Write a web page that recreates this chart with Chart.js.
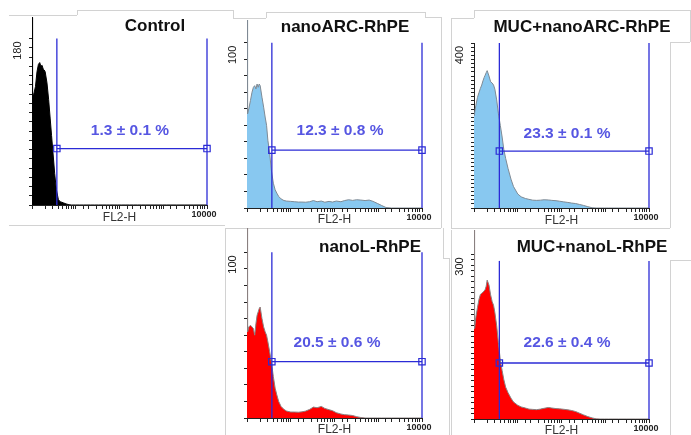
<!DOCTYPE html>
<html>
<head>
<meta charset="utf-8">
<title>FL2-H histograms</title>
<script src="https://cdn.jsdelivr.net/npm/chart.js@4.4.0/dist/chart.umd.min.js"></script>
<style>
  body { margin: 0; background: #fff; width: 691px; height: 435px; position: relative; overflow: hidden; }
  .seg { position: absolute; background: #d2d2d2; }
  canvas { position: absolute; }
</style>
</head>
<body>
<script>
// ==============================
// Data
// ==============================

// FL2-H channel positions shared by all histograms
const channels = [1, 1.03, 1.1, 1.2, 1.3, 1.4, 1.5, 1.6, 1.7, 1.8,
    1.9, 2, 2.2, 2.4, 2.6, 2.8, 3, 3.3, 3.6, 4,
    4.4, 4.8, 5.3, 6, 7, 8, 10, 12, 15, 18,
    22, 27, 33, 40, 50, 60, 75, 90, 110, 140,
    170, 210, 260, 320, 400, 500, 620, 760, 950, 1200,
    1500, 2000, 3000, 5000, 10000];

const controlCounts = [400, 119, 120, 128, 144, 152, 154, 150, 151, 147,
    146, 144, 132, 114, 94, 75, 58, 34, 17, 6,
    3.5, 3, 2.2, 1.2, 0.3, 0, 0, 0, 0, 0,
    0, 0, 0, 0, 0, 0, 0, 0, 0, 0,
    0, 0, 0, 0, 0, 0, 0, 0, 0, 0,
    0, 0, 0, 0, 0];

const nanoArcCounts = [300, 57, 60, 65, 70, 73, 74, 72, 75, 73,
    75, 74, 67, 61, 55, 50, 41, 33, 23, 15,
    11, 9, 7, 5.5, 4.5, 4.2, 4, 3.8, 3.6, 3.6,
    3.5, 3.8, 4.5, 3.8, 4.2, 3.5, 4, 3.6, 4.2, 3.8,
    4.5, 5, 4.6, 5, 4.8, 4.5, 4.8, 4, 2.8, 1.5,
    0.3, 0, 0, 0, 0];

const mucNanoArcCounts = [225, 230, 248, 268, 280, 290, 298, 308, 316, 322,
    328, 333, 320, 306, 303, 298, 288, 262, 230, 200,
    172, 142, 120, 96, 70, 52, 34, 27, 23, 21,
    19, 18.5, 19, 20, 19.5, 18.5, 17.7, 16.5, 15, 13.5,
    12, 10.8, 8.5, 6.2, 3.2, 0.6, 0, 0, 0, 0,
    0, 0, 0, 0, 0];

const nanoLCounts = [400, 52, 55, 56, 55, 54, 50, 57, 62, 64,
    66, 67, 60, 55, 52, 50, 46, 40, 34, 25,
    18, 14, 10, 7, 5.2, 4.2, 3.6, 3.6, 3.5, 3.7,
    4.2, 5.2, 6.6, 6.2, 7, 5.8, 5, 4.4, 3.2, 2.4,
    2, 1.8, 1.5, 0.8, 0.3, 0, 0, 0, 0, 0,
    0, 0, 0, 0, 0];

const mucNanoLCounts = [600, 165, 185, 203, 218, 227, 229, 231, 233, 236,
    242, 253, 244, 226, 214, 207, 194, 170, 140, 107,
    88, 72, 58, 48, 38, 31, 25, 22, 20, 18,
    17.5, 17, 18, 19.5, 21, 20, 19, 18.5, 17.8, 16.7,
    15.5, 13.6, 10.5, 7.5, 4.4, 2, 0.3, 0, 0, 0,
    0, 0, 0, 0, 0];

const titles = ["Control", "nanoARC-RhPE", "MUC+nanoARC-RhPE", "nanoL-RhPE", "MUC+nanoL-RhPE"];
const gateLabels = ["1.3 ± 0.1 %", "12.3 ± 0.8 %", "23.3 ± 0.1 %", "20.5 ± 0.6 %", "22.6 ± 0.4 %"];
const yTopTicks = [180, 100, 400, 100, 300];
const gateStart = [3.7, 3.7, 3.8, 3.7, 3.8];
const gateTop = [180, 100, 400, 100, 288];
const gateLevel = [61, 35, 138, 34, 102];
const xEndTick = 10000;

const histCounts = [controlCounts, nanoArcCounts, mucNanoArcCounts, nanoLCounts, mucNanoLCounts];

// ==============================
// Layout of the five panels
// ==============================

const panels = [
    { ax: 32,  right: 207, top: 17,  bottom: 205, yMax: 202.6, rowTop: 0,   title: [155, 26],  label: [130, 131], fl2y: 218, fill: "#000000", line: "#000000" },
    { ax: 247, right: 422, top: 20,  bottom: 208, yMax: 113.7, rowTop: 0,   title: [345, 27],  label: [340, 131], fl2y: 220, fill: "#88c8f0", line: "#7f8a94" },
    { ax: 474, right: 649, top: 43,  bottom: 208, yMax: 400,   rowTop: 0,   title: [582, 27],  label: [567, 134], fl2y: 221, fill: "#88c8f0", line: "#7f8a94" },
    { ax: 247, right: 422, top: 228, bottom: 418, yMax: 114.7, rowTop: 205, title: [370, 247], label: [337, 343], fl2y: 430, fill: "#ff0000", line: "#8a8080" },
    { ax: 474, right: 649, top: 230, bottom: 419, yMax: 344.3, rowTop: 205, title: [592, 247], label: [567, 343], fl2y: 431, fill: "#ff0000", line: "#8a8080" }
];

const RIGHT_PAD = 42;

// light grey frames around the panels
const frameSegments = [
    [9, 15, 77, 15], [77, 10, 77, 15], [77, 10, 233, 10], [233, 10, 233, 18], [233, 18, 266, 18],
    [266, 12, 266, 18], [266, 12, 425, 12], [425, 12, 425, 17], [425, 17, 441, 17], [441, 17, 441, 228],
    [9, 225, 225, 225], [225, 228, 441, 228],
    [451, 18, 451, 228], [451, 18, 474, 18], [474, 10, 474, 18], [474, 10, 691, 10],
    [690, 10, 690, 42], [670, 42, 690, 42], [670, 42, 670, 228], [451, 228, 670, 228],
    [225, 228, 225, 435], [443, 228, 443, 258], [443, 258, 449, 258], [449, 258, 449, 435],
    [451, 230, 451, 435], [670, 260, 670, 435], [670, 260, 691, 260]
];

frameSegments.forEach(([x1, y1, x2, y2]) => {
    const d = document.createElement("div");
    d.className = "seg";
    d.style.left = Math.min(x1, x2) + "px";
    d.style.top = Math.min(y1, y2) + "px";
    d.style.width = (Math.abs(x2 - x1) || 1) + "px";
    d.style.height = (Math.abs(y2 - y1) || 1) + "px";
    document.body.appendChild(d);
});

// ==============================
// Chart setup
// ==============================

const FONT = 'Arial, "Liberation Sans", sans-serif';
Chart.defaults.font.family = FONT;

const GATE = "#2b2bd6";

// title + gate percentage text
const panelText = {
    id: "panelText",
    afterDraw(chart, args, opts) {
        const ctx = chart.ctx;
        ctx.save();
        ctx.textAlign = "center";
        ctx.textBaseline = "middle";
        ctx.fillStyle = "#111";
        ctx.font = "bold 17px " + FONT;
        ctx.fillText(opts.title, opts.titleX, opts.titleY);
        ctx.fillStyle = "#5656e2";
        ctx.font = "bold 15.5px " + FONT;
        ctx.fillText(opts.label, opts.labelX, opts.labelY);
        ctx.restore();
    }
};

panels.forEach((p, i) => {

    const left = p.ax - 30;
    const width = p.right - left + RIGHT_PAD;
    const axisH = Math.round(p.fl2y - p.bottom + 7);
    const height = p.bottom + axisH - p.rowTop;

    const canvas = document.createElement("canvas");
    canvas.width = width;
    canvas.height = height;
    canvas.style.left = left + "px";
    canvas.style.top = p.rowTop + "px";
    canvas.style.width = width + "px";
    canvas.style.height = height + "px";
    document.body.appendChild(canvas);

    const counts = histCounts[i];
    const topTick = yTopTicks[i];

    const gateLine = {
        borderColor: GATE,
        borderWidth: 1.3,
        pointRadius: 0,
        fill: false,
        clip: 4,
        order: 1
    };

    new Chart(canvas, {
        type: "line",
        data: {
            datasets: [
                Object.assign({ data: [{ x: gateStart[i], y: 0 }, { x: gateStart[i], y: gateTop[i] }] }, gateLine),
                Object.assign({ data: [{ x: xEndTick, y: 0 }, { x: xEndTick, y: gateTop[i] }] }, gateLine),
                Object.assign({}, gateLine, {
                    data: [{ x: gateStart[i], y: gateLevel[i] }, { x: xEndTick, y: gateLevel[i] }],
                    pointStyle: "rect",
                    pointRadius: 4.5,
                    pointBorderColor: GATE,
                    pointBackgroundColor: "rgba(0,0,0,0)",
                    pointBorderWidth: 1.2
                }),
                {
                    data: channels.map((c, k) => ({ x: c, y: counts[k] })),
                    fill: "origin",
                    backgroundColor: p.fill,
                    borderColor: p.line,
                    borderWidth: 1,
                    pointRadius: 0,
                    tension: 0,
                    order: 2
                }
            ]
        },
        options: {
            responsive: false,
            animation: false,
            events: [],
            layout: {
                padding: { left: 0, right: RIGHT_PAD, top: p.top - p.rowTop, bottom: 0 }
            },
            plugins: {
                legend: { display: false },
                tooltip: { enabled: false },
                panelText: {
                    title: titles[i],
                    titleX: p.title[0] - left,
                    titleY: p.title[1] - p.rowTop,
                    label: gateLabels[i],
                    labelX: p.label[0] - left,
                    labelY: p.label[1] - p.rowTop
                }
            },
            scales: {
                x: {
                    type: "logarithmic",
                    min: 1,
                    max: xEndTick,
                    grid: { drawOnChartArea: false, tickLength: 4, color: "#222" },
                    border: { display: true, color: "#222" },
                    ticks: {
                        autoSkip: false,
                        maxRotation: 0,
                        padding: 0,
                        labelOffset: -3,
                        color: "#222",
                        font: { size: 9, weight: "bold" },
                        callback: (v) => v === xEndTick ? String(xEndTick) : ""
                    },
                    title: {
                        display: true,
                        text: "FL2-H",
                        color: "#333",
                        font: { size: 12, lineHeight: 1.2 },
                        padding: { top: 0, bottom: 0 }
                    },
                    afterFit: (s) => { s.height = axisH; }
                },
                y: {
                    min: 0,
                    max: p.yMax,
                    grid: { drawOnChartArea: false, tickLength: 3, color: "#222" },
                    border: { display: true, color: "#222" },
                    ticks: {
                        stepSize: 10,
                        autoSkip: false,
                        minRotation: 90,
                        maxRotation: 90,
                        padding: 11,
                        labelOffset: 3,
                        color: "#222",
                        font: { size: 11 },
                        callback: (v) => v === topTick ? String(topTick) : ""
                    },
                    afterBuildTicks: (s) => { s.ticks = s.ticks.filter(t => t.value <= topTick); },
                    afterFit: (s) => { s.width = 30; }
                }
            }
        },
        plugins: [panelText]
    });
});
</script>
</body>
</html>
